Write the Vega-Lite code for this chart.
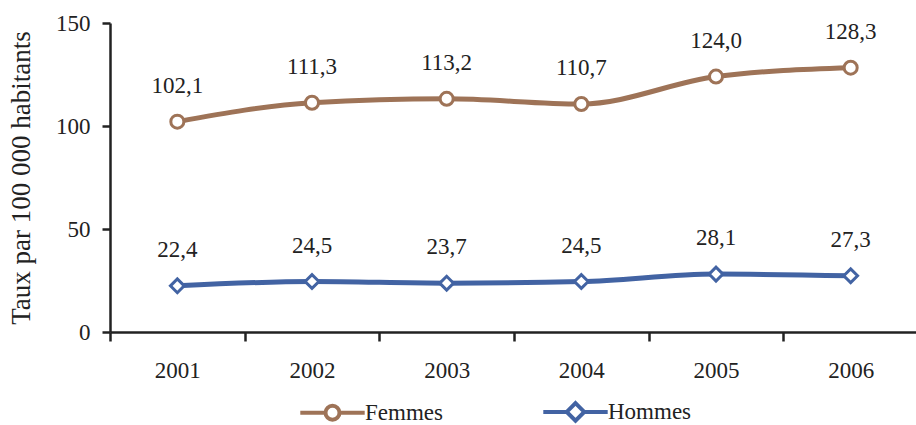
{
  "$schema": "https://vega.github.io/schema/vega-lite/v6.json",
  "width": 808,
  "height": 309,
  "autosize": "none",
  "padding": {"left": 110, "top": 23, "right": 0, "bottom": 93},
  "config": {
    "font": "Liberation Serif",
    "view": {"stroke": null},
    "locale": {"number": {"decimal": ",", "thousands": " ", "grouping": [3], "currency": ["", " €"]}}
  },
  "data": {
    "values": [
      {"annee": "2001", "serie": "Femmes", "taux": 102.1},
      {"annee": "2002", "serie": "Femmes", "taux": 111.3},
      {"annee": "2003", "serie": "Femmes", "taux": 113.2},
      {"annee": "2004", "serie": "Femmes", "taux": 110.7},
      {"annee": "2005", "serie": "Femmes", "taux": 124.0},
      {"annee": "2006", "serie": "Femmes", "taux": 128.3},
      {"annee": "2001", "serie": "Hommes", "taux": 22.4},
      {"annee": "2002", "serie": "Hommes", "taux": 24.5},
      {"annee": "2003", "serie": "Hommes", "taux": 23.7},
      {"annee": "2004", "serie": "Hommes", "taux": 24.5},
      {"annee": "2005", "serie": "Hommes", "taux": 28.1},
      {"annee": "2006", "serie": "Hommes", "taux": 27.3}
    ]
  },
  "encoding": {
    "x": {
      "field": "annee", "type": "ordinal",
      "scale": {"type": "band", "paddingInner": 0, "paddingOuter": 0},
      "axis": {
        "title": null, "labelAngle": 0, "tickBand": "extent",
        "domainColor": "#222", "domainWidth": 2.5, "tickColor": "#222", "tickWidth": 2.5, "tickSize": 9,
        "labelFontSize": 23, "labelFont": "Liberation Serif", "labelColor": "#222", "labelPadding": 18
      }
    },
    "y": {
      "field": "taux", "type": "quantitative",
      "scale": {"domain": [0, 150]},
      "axis": {
        "values": [0, 50, 100, 150], "grid": false,
        "title": "Taux par 100 000 habitants", "titleFont": "Liberation Serif", "titleFontSize": 27, "titleFontWeight": "normal", "titleColor": "#222", "titlePadding": 20,
        "domainColor": "#222", "domainWidth": 2.5, "tickColor": "#222", "tickWidth": 2.5, "tickSize": 8,
        "labelFontSize": 23, "labelFont": "Liberation Serif", "labelColor": "#222", "labelPadding": 12
      }
    }
  },
  "layer": [
    {
      "mark": {"type": "line", "strokeWidth": 5, "interpolate": "monotone"},
      "encoding": {
        "color": {
          "field": "serie", "type": "nominal",
          "scale": {"domain": ["Femmes", "Hommes"], "range": ["#9E7357", "#4263A3"]},
          "legend": {
            "title": null, "orient": "none", "legendX": 211, "legendY": 377, "direction": "horizontal",
            "labelFontSize": 23, "labelColor": "#222", "labelFont": "Liberation Serif",
            "symbolSize": 196, "symbolStrokeWidth": 4, "labelOffset": 21, "columnPadding": 92,
            "encode": {
              "symbols": {
                "update": {
                  "shape": {"signal": "datum.value === 'Femmes' ? 'M-4.6,0 L-1,0 M1,0 L4.6,0 M-1,0 A1,1 0 1,1 1,0 A1,1 0 1,1 -1,0 Z' : 'M-4.6,0 L-1.25,0 M1.25,0 L4.6,0 M0,-1.25 L1.25,0 L0,1.25 L-1.25,0 Z'"},
                  "fill": {"value": "white"},
                  "fillOpacity": {"value": 1},
                  "stroke": {"scale": "color", "field": "value"},
                  "strokeWidth": {"value": 4}
                }
              }
            }
          }
        }
      }
    },
    {
      "transform": [{"filter": "datum.serie === 'Femmes'"}],
      "mark": {"type": "point", "shape": "circle", "filled": false, "fill": "white", "fillOpacity": 1, "opacity": 1, "size": 170, "strokeWidth": 3, "stroke": "#9E7357"}
    },
    {
      "transform": [{"filter": "datum.serie === 'Hommes'"}],
      "mark": {"type": "point", "shape": "diamond", "filled": false, "fill": "white", "fillOpacity": 1, "opacity": 1, "size": 190, "strokeWidth": 3, "stroke": "#4263A3"}
    },
    {
      "mark": {"type": "text", "dy": -36, "fontSize": 23, "color": "#222"},
      "encoding": {
        "text": {"field": "taux", "type": "quantitative", "format": ".1f"}
      }
    }
  ]
}
